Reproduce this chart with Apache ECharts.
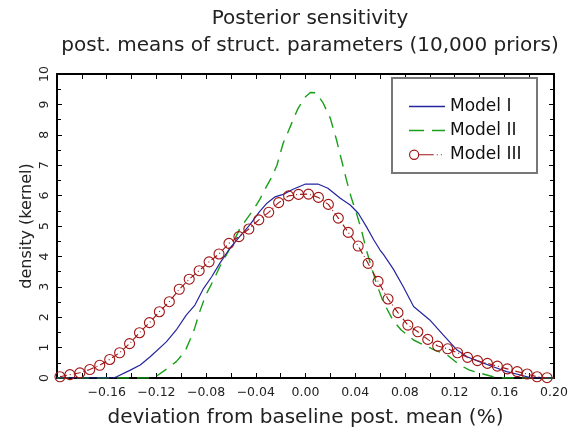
<!DOCTYPE html>
<html><head><meta charset="utf-8">
<script src="https://cdn.jsdelivr.net/npm/echarts@6/dist/echarts.min.js"></script>
<style>html,body{margin:0;padding:0;background:#fff}#c{width:571px;height:437px}</style>
</head><body><div id="c"></div>
<script>
var titleLines = ['Posterior sensitivity', 'post. means of struct. parameters (10,000 priors)'];
var xAxisName = 'deviation from baseline post. mean (%)';
var yAxisName = 'density (kernel)';
var seriesNames = ['Model I', 'Model II', 'Model III'];

// Model I (solid blue): [x, density]
var model1 = [[-0.2,0],[-0.155,0],[-0.152,0.04],[-0.141,0.26],[-0.133,0.43],[-0.125,0.7],[-0.112,1.19],[-0.104,1.58],[-0.096,2.07],[-0.089,2.4],[-0.082,2.95],[-0.0755,3.33],[-0.069,3.77],[-0.061,4.26],[-0.053,4.65],[-0.045,5.03],[-0.037,5.47],[-0.031,5.75],[-0.0245,5.96],[-0.018,6.04],[-0.01,6.21],[0,6.38],[0.01,6.38],[0.018,6.24],[0.028,5.91],[0.036,5.69],[0.0425,5.42],[0.049,4.98],[0.055,4.54],[0.06,4.21],[0.063,4.05],[0.0707,3.58],[0.0787,3.0],[0.087,2.35],[0.1,1.91],[0.111,1.41],[0.122,0.92],[0.13,0.7],[0.14,0.54],[0.151,0.37],[0.162,0.21],[0.173,0.1],[0.18,0.02],[0.185,0],[0.2,0]];

// Model II (dashed green): [x, density]
var model2 = [[-0.2,0],[-0.15,0],[-0.125,0],[-0.12,0.06],[-0.113,0.26],[-0.104,0.54],[-0.097,0.87],[-0.093,1.25],[-0.0895,1.6],[-0.085,2.2],[-0.08,2.75],[-0.074,3.22],[-0.069,3.66],[-0.063,4.1],[-0.058,4.48],[-0.053,4.9],[-0.047,5.25],[-0.042,5.53],[-0.037,5.86],[-0.033,6.18],[-0.027,6.62],[-0.023,7.0],[-0.018,7.72],[-0.014,8.1],[-0.01,8.49],[-0.006,8.87],[0,9.25],[0.004,9.39],[0.0085,9.38],[0.014,9.06],[0.02,8.54],[0.025,7.83],[0.029,7.17],[0.033,6.51],[0.037,5.91],[0.041,5.42],[0.045,4.87],[0.049,4.21],[0.053,3.66],[0.057,3.12],[0.0626,2.5],[0.0707,1.88],[0.077,1.58],[0.087,1.25],[0.095,1.09],[0.104,0.92],[0.114,0.76],[0.124,0.43],[0.132,0.26],[0.143,0.13],[0.151,0.04],[0.16,0],[0.2,0]];

// Model III (circles): x positions and densities
var model3X = [-0.1976,-0.1896,-0.1816,-0.1736,-0.1656,-0.1576,-0.1496,-0.1416,-0.1336,-0.1256,-0.1176,-0.1096,-0.1016,-0.0936,-0.0856,-0.0776,-0.0696,-0.0616,-0.0536,-0.0456,-0.0376,-0.0296,-0.0216,-0.0136,-0.0056,0.0024,0.0104,0.0184,0.0264,0.0344,0.0424,0.0504,0.0584,0.0664,0.0744,0.0824,0.0904,0.0984,0.1064,0.1144,0.1224,0.1304,0.1384,0.1464,0.1544,0.1624,0.1704,0.1784,0.1864,0.1944];
var model3Y = [0.04,0.11,0.17,0.28,0.42,0.61,0.83,1.13,1.49,1.82,2.18,2.51,2.92,3.25,3.53,3.82,4.08,4.43,4.65,4.90,5.20,5.45,5.77,5.99,6.04,6.05,5.94,5.71,5.26,4.79,4.34,3.77,3.18,2.60,2.15,1.74,1.52,1.27,1.05,0.96,0.83,0.68,0.57,0.48,0.39,0.30,0.21,0.13,0.04,0.01];

var model3 = model3X.map(function(x, i){ return [x, model3Y[i]]; });

var FONT = 'DejaVu Sans';
var C1 = '#2424a0', C2 = '#18a018', C3 = '#a01414';
var chart = echarts.init(document.getElementById('c'), null, {renderer: 'canvas'});
function fmtX(v){
  if (Math.abs(v + 0.2) < 1e-9) return '';
  var s = Math.abs(v).toFixed(2);
  return (v < -1e-9 ? '\u2212' : '') + s;
}
var axisLineStyle = {color: '#000', width: 2};
var tickStyle = {color: '#000', width: 1};
chart.setOption({
  animation: false,
  backgroundColor: '#fff',
  title: {
    text: titleLines.join('\n'),
    left: 305, top: 0, textAlign: 'center',
    textStyle: {fontFamily: FONT, fontSize: 20, fontWeight: 'normal', color: '#222', lineHeight: 27}
  },
  grid: {left: 57, right: 17, top: 74, bottom: 59, containLabel: false},
  legend: {
    orient: 'vertical', left: 404, top: 93,
    itemWidth: 36, itemHeight: 12, itemGap: 7,
    textStyle: {fontFamily: FONT, fontSize: 17, color: '#111'},
    data: [
      {name: seriesNames[0], icon: 'path://M0,0H36V1.3H0Z', itemStyle: {color: C1, borderWidth: 0}},
      {name: seriesNames[1], icon: 'path://M0,0H15V1.6H0Z M23,0H36V1.6H23Z', itemStyle: {color: C2, borderWidth: 0}},
      {name: seriesNames[2], icon: 'path://M1,6A5,5 0 1,0 11,6A5,5 0 1,0 1,6Z M2.1,6A3.9,3.9 0 1,1 9.9,6A3.9,3.9 0 1,1 2.1,6Z M11,5.5H25V6.5H11Z M28,5.5H29V6.5H28Z M32,5.5H33V6.5H32Z M35.9,0.5H36V0.6H35.9Z', itemStyle: {color: C3, borderWidth: 0}}
    ]
  },
  graphic: [{type: 'rect', shape: {x: 392, y: 78, width: 145, height: 95}, style: {fill: 'none', stroke: '#777', lineWidth: 2}, z: 10}],
  xAxis: [{
    type: 'value', min: -0.2, max: 0.2, interval: 0.04,
    name: xAxisName, nameLocation: 'middle', nameGap: 30, nameMoveOverlap: false,
    nameTextStyle: {fontFamily: FONT, fontSize: 20, color: '#222'},
    axisLine: {show: true, onZero: false, lineStyle: axisLineStyle},
    axisTick: {show: true, inside: true, length: 5, lineStyle: tickStyle},
    minorTick: {show: true, splitNumber: 2, length: 5, lineStyle: tickStyle},
    axisLabel: {formatter: fmtX, fontFamily: FONT, fontSize: 12.5, color: '#222', margin: 8, showMinLabel: true},
    splitLine: {show: false}
  }, {
    type: 'value', position: 'top', min: -0.2, max: 0.2, interval: 0.04,
    axisLine: {show: true, onZero: false, lineStyle: axisLineStyle},
    axisTick: {show: true, inside: true, length: 5, lineStyle: tickStyle},
    minorTick: {show: true, splitNumber: 2, length: 5, lineStyle: tickStyle},
    axisLabel: {show: false}, splitLine: {show: false}
  }],
  yAxis: [{
    type: 'value', min: 0, max: 10, interval: 1,
    name: yAxisName, nameLocation: 'middle', nameGap: 22, nameRotate: 90, nameMoveOverlap: false,
    nameTextStyle: {fontFamily: FONT, fontSize: 16, color: '#222'},
    axisLine: {show: true, onZero: false, lineStyle: axisLineStyle},
    axisTick: {show: true, inside: true, length: 5, lineStyle: tickStyle},
    minorTick: {show: true, splitNumber: 2, length: 4, lineStyle: tickStyle},
    axisLabel: {rotate: 90, fontFamily: FONT, fontSize: 12.5, color: '#222', margin: 6},
    splitLine: {show: false}
  }, {
    type: 'value', position: 'right', min: 0, max: 10, interval: 1,
    axisLine: {show: true, onZero: false, lineStyle: axisLineStyle},
    axisTick: {show: true, inside: true, length: 5, lineStyle: tickStyle},
    minorTick: {show: true, splitNumber: 2, length: 4, lineStyle: tickStyle},
    axisLabel: {show: false}, splitLine: {show: false}
  }],
  series: [{
    name: seriesNames[0], type: 'line', data: model1, showSymbol: false, symbol: 'none',
    lineStyle: {color: C1, width: 1.2}, itemStyle: {color: C1}, z: 3
  }, {
    name: seriesNames[1], type: 'line', data: model2, showSymbol: false, symbol: 'none',
    lineStyle: {color: C2, width: 1.4, type: [12, 8]}, itemStyle: {color: C2}, z: 2
  }, {
    name: seriesNames[2], type: 'line', data: model3, symbol: 'circle', symbolSize: 10, showSymbol: true,
    lineStyle: {color: C3, width: 1.1, type: [7, 3, 1, 3]},
    itemStyle: {color: 'rgba(0,0,0,0)', borderColor: C3, borderWidth: 1.1}, clip: false, z: 4
  }]
});
</script></body></html>
